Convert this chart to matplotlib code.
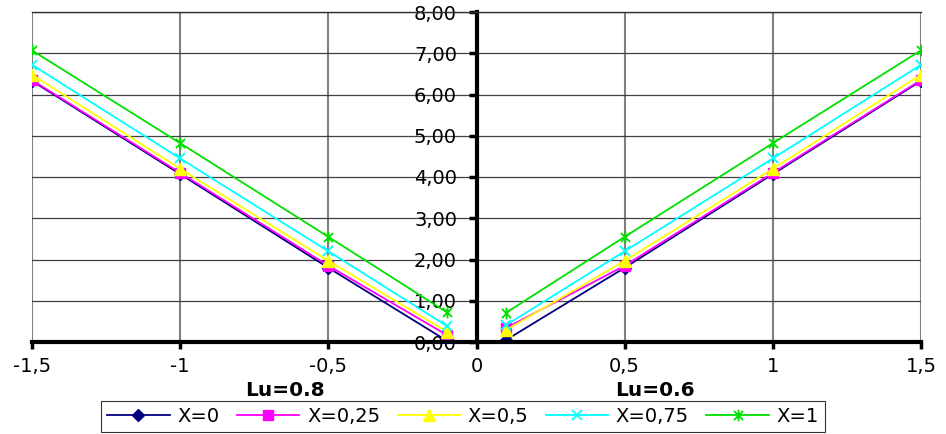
import matplotlib
matplotlib.use('Agg')
import matplotlib.pyplot as plt
import matplotlib.ticker as mticker
from matplotlib.path import Path

plt.rcParams['font.family'] = ['DejaVu Sans']

# data
x_left = [-1.5, -1, -0.5, -0.1]
x_right = [0.1, 0.5, 1, 1.5]
labels = ['X=0', 'X=0,25', 'X=0,5', 'X=0,75', 'X=1']
y_left = [
    [6.33, 4.07, 1.80, 0.03],
    [6.35, 4.10, 1.85, 0.17],
    [6.48, 4.20, 1.97, 0.25],
    [6.72, 4.45, 2.20, 0.39],
    [7.07, 4.82, 2.55, 0.72],
]
y_right = [
    [0.05, 1.80, 4.07, 6.33],
    [0.34, 1.85, 4.10, 6.35],
    [0.29, 1.97, 4.20, 6.48],
    [0.41, 2.20, 4.45, 6.72],
    [0.71, 2.55, 4.82, 7.07],
]
x_ticks = [-1.5, -1, -0.5, 0, 0.5, 1, 1.5]
x_tick_labels = ['-1,5', '-1', '-0,5', '0', '0,5', '1', '1,5']

# excel style asterisk: an x plus a vertical bar
star = Path([(-1, -1), (1, 1), (-1, 1), (1, -1), (0, -1.3), (0, 1.3)],
            [Path.MOVETO, Path.LINETO, Path.MOVETO, Path.LINETO, Path.MOVETO, Path.LINETO])

styles = [
    dict(color='#000080', marker='D', ms=6),
    dict(color='#ff00ff', marker='s', ms=6.5),
    dict(color='#ffff00', marker='^', ms=8.5),
    dict(color='#00ffff', marker='x', ms=7.5, mew=1.3),
    dict(color='#00e000', marker=star, ms=8.5, mew=1.3),
]

fig = plt.figure(figsize=(9.46, 4.34), dpi=100)
ax = fig.add_axes([32 / 946, 1 - 342 / 434, 889 / 946, 330 / 434])

handles = []
for i in range(len(labels)):
    st = styles[i]
    h, = ax.plot(x_left, y_left[i], lw=1.3, label=labels[i], **st)
    ax.plot(x_right, y_right[i], lw=1.3, **st)
    handles.append(h)

ax.set_xlim(-1.5, 1.5)
ax.set_ylim(0, 8)
ax.set_xticks(x_ticks)
ax.set_xticklabels(x_tick_labels)
ax.set_yticks(range(0, 9))
ax.yaxis.set_major_formatter(mticker.FuncFormatter(lambda v, p: f'{v:.2f}'.replace('.', ',')))

ax.set_axisbelow(True)
ax.grid(axis='x', color='#808080', lw=1.5)
ax.grid(axis='y', color='#404040', lw=0.9)

ax.spines['left'].set_position(('data', 0))
ax.spines['left'].set_linewidth(3)
ax.spines['bottom'].set_linewidth(3)
ax.spines['top'].set_linewidth(1)
ax.spines['top'].set_color('#303030')
ax.spines['right'].set_visible(False)
ax.tick_params(axis='x', direction='out', length=5, width=2.5, pad=6, labelsize=14)
ax.tick_params(axis='y', direction='out', length=6, width=2.5, pad=8, labelsize=14)

fig.text(285 / 946, 1 - 390 / 434, 'Lu=0.8', ha='center', va='center',
         fontsize=14.5, fontweight='bold')
fig.text(655 / 946, 1 - 390 / 434, 'Lu=0.6', ha='center', va='center',
         fontsize=14.5, fontweight='bold')

leg = fig.legend(handles=handles, loc='lower center', ncol=5,
                 bbox_to_anchor=(463 / 946, 0.0), fontsize=14, frameon=True,
                 fancybox=False, edgecolor='black', handlelength=3.2,
                 handletextpad=0.4, columnspacing=0.9, borderpad=0.3,
                 borderaxespad=0.1)
leg.get_frame().set_linewidth(0.8)

fig.savefig('out.png', dpi=100)
